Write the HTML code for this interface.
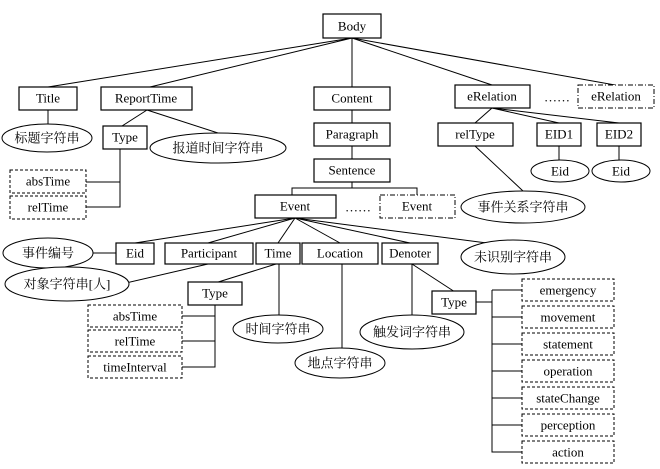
<!DOCTYPE html>
<html><head><meta charset="utf-8"><style>
html,body{margin:0;padding:0;background:#fff;}
svg{display:block;}
text{font-family:"Liberation Serif","Noto Serif CJK SC","Noto Sans CJK SC",serif;font-size:13px;fill:#000;text-anchor:middle;dominant-baseline:central;}
.b{fill:#fff;stroke:#000;stroke-width:1.2;}
.d{fill:#fff;stroke:#000;stroke-width:1;stroke-dasharray:3,2;}
.dd{fill:#fff;stroke:#000;stroke-width:1;stroke-dasharray:5,2,1,2;}
.e{fill:#fff;stroke:#000;stroke-width:1;}
line,polyline{stroke:#000;stroke-width:1;fill:none;}
</style></head><body>
<svg width="660" height="469" viewBox="0 0 660 469">
<!-- Body lines -->
<line x1="352" y1="38" x2="48" y2="87"/>
<line x1="352" y1="38" x2="150" y2="87"/>
<line x1="352" y1="38" x2="352" y2="87"/>
<line x1="352" y1="38" x2="492" y2="85"/>
<line x1="352" y1="38" x2="615" y2="85"/>
<line x1="48" y1="110" x2="48" y2="124"/>
<line x1="147" y1="110" x2="122" y2="126"/>
<line x1="147" y1="110" x2="218" y2="133"/>
<polyline points="120,149 120,207 86,207"/>
<line x1="120" y1="182" x2="86" y2="182"/>
<line x1="352" y1="110" x2="352" y2="123"/>
<line x1="352" y1="146" x2="352" y2="159"/>
<polyline points="292,195 292,188 417,188 417,195"/>
<line x1="352" y1="182" x2="352" y2="188"/>
<line x1="492" y1="108" x2="475" y2="123"/>
<line x1="492" y1="108" x2="559" y2="123"/>
<line x1="492" y1="108" x2="619" y2="123"/>
<line x1="475" y1="146" x2="523" y2="191"/>
<line x1="559" y1="146" x2="559" y2="160"/>
<line x1="619" y1="146" x2="619" y2="160"/>
<!-- Event fan -->
<line x1="295" y1="218" x2="135" y2="243"/>
<line x1="295" y1="218" x2="208" y2="243"/>
<line x1="295" y1="218" x2="278" y2="243"/>
<line x1="295" y1="218" x2="340" y2="243"/>
<line x1="295" y1="218" x2="410" y2="243"/>
<line x1="295" y1="218" x2="510" y2="246"/>
<line x1="93" y1="253" x2="116" y2="253"/>
<line x1="208" y1="264" x2="126" y2="283"/>
<line x1="276" y1="264" x2="215" y2="283"/>
<line x1="279" y1="264" x2="279" y2="315"/>
<line x1="342" y1="264" x2="342" y2="348"/>
<line x1="412" y1="264" x2="412" y2="315"/>
<line x1="412" y1="264" x2="455" y2="292"/>
<polyline points="215,305 215,367 182,367"/>
<line x1="215" y1="316" x2="182" y2="316"/>
<line x1="215" y1="341" x2="182" y2="341"/>
<polyline points="476,302 492,302"/>
<polyline points="492,290 492,452 522,452"/>
<line x1="492" y1="290" x2="522" y2="290"/>
<line x1="492" y1="317" x2="522" y2="317"/>
<line x1="492" y1="344" x2="522" y2="344"/>
<line x1="492" y1="371" x2="522" y2="371"/>
<line x1="492" y1="398" x2="522" y2="398"/>
<line x1="492" y1="425" x2="522" y2="425"/>

<!-- boxes -->
<rect class="b" x="323" y="14" width="58" height="24"/><text x="352" y="26">Body</text>
<rect class="b" x="19" y="87" width="58" height="23"/><text x="48" y="98">Title</text>
<rect class="b" x="101" y="87" width="91" height="23"/><text x="146" y="98">ReportTime</text>
<rect class="b" x="314" y="87" width="76" height="23"/><text x="352" y="98">Content</text>
<rect class="b" x="455" y="85" width="75" height="23"/><text x="492" y="96">eRelation</text>
<text x="557" y="97">……</text>
<rect class="dd" x="578" y="85" width="76" height="23"/><text x="616" y="96">eRelation</text>
<ellipse class="e" cx="47" cy="138" rx="45" ry="14"/><text x="47" y="138">标题字符串</text>
<rect class="b" x="103" y="126" width="44" height="23"/><text x="125" y="137">Type</text>
<ellipse class="e" cx="218" cy="148" rx="68" ry="15"/><text x="218" y="148">报道时间字符串</text>
<rect class="d" x="10" y="170" width="76" height="23"/><text x="48" y="181">absTime</text>
<rect class="d" x="10" y="196" width="76" height="23"/><text x="48" y="207">relTime</text>
<rect class="b" x="314" y="123" width="76" height="23"/><text x="352" y="134">Paragraph</text>
<rect class="b" x="314" y="159" width="76" height="23"/><text x="352" y="170">Sentence</text>
<rect class="b" x="255" y="195" width="81" height="23"/><text x="295" y="206">Event</text>
<text x="358" y="207">……</text>
<rect class="dd" x="380" y="195" width="75" height="23"/><text x="417" y="206">Event</text>
<rect class="b" x="438" y="123" width="75" height="23"/><text x="475" y="134">relType</text>
<rect class="b" x="537" y="123" width="44" height="23"/><text x="559" y="134">EID1</text>
<rect class="b" x="597" y="123" width="44" height="23"/><text x="619" y="134">EID2</text>
<ellipse class="e" cx="560" cy="171" rx="29" ry="11"/><text x="560" y="171">Eid</text>
<ellipse class="e" cx="621" cy="171" rx="29" ry="11"/><text x="621" y="171">Eid</text>
<ellipse class="e" cx="523" cy="207" rx="62" ry="16"/><text x="523" y="207">事件关系字符串</text>

<ellipse class="e" cx="48" cy="253" rx="45" ry="15"/><text x="48" y="253">事件编号</text>
<rect class="b" x="116" y="243" width="38" height="21"/><text x="135" y="253">Eid</text>
<rect class="b" x="165" y="243" width="88" height="21"/><text x="209" y="253">Participant</text>
<rect class="b" x="256" y="243" width="44" height="21"/><text x="278" y="253">Time</text>
<rect class="b" x="302" y="243" width="76" height="21"/><text x="340" y="253">Location</text>
<rect class="b" x="382" y="243" width="56" height="21"/><text x="410" y="253">Denoter</text>
<ellipse class="e" cx="513" cy="257" rx="52" ry="17"/><text x="513" y="257">未识别字符串</text>
<ellipse class="e" cx="67" cy="284" rx="62" ry="17"/><text x="67" y="284">对象字符串[人]</text>
<rect class="b" x="188" y="282" width="54" height="23"/><text x="215" y="293">Type</text>
<rect class="d" x="88" y="305" width="94" height="22"/><text x="135" y="316">absTime</text>
<rect class="d" x="88" y="330" width="94" height="22"/><text x="135" y="341">relTime</text>
<rect class="d" x="88" y="356" width="94" height="22"/><text x="135" y="367">timeInterval</text>
<ellipse class="e" cx="278" cy="329" rx="45" ry="14"/><text x="278" y="329">时间字符串</text>
<ellipse class="e" cx="340" cy="363" rx="45" ry="15"/><text x="340" y="363">地点字符串</text>
<ellipse class="e" cx="412" cy="332" rx="52" ry="17"/><text x="412" y="332">触发词字符串</text>
<rect class="b" x="432" y="291" width="44" height="23"/><text x="454" y="302">Type</text>
<rect class="d" x="522" y="279" width="92" height="22"/><text x="568" y="290">emergency</text>
<rect class="d" x="522" y="306" width="92" height="22"/><text x="568" y="317">movement</text>
<rect class="d" x="522" y="333" width="92" height="22"/><text x="568" y="344">statement</text>
<rect class="d" x="522" y="360" width="92" height="22"/><text x="568" y="371">operation</text>
<rect class="d" x="522" y="387" width="92" height="22"/><text x="568" y="398">stateChange</text>
<rect class="d" x="522" y="414" width="92" height="22"/><text x="568" y="425">perception</text>
<rect class="d" x="522" y="441" width="92" height="22"/><text x="568" y="452">action</text>
</svg>
</body></html>
